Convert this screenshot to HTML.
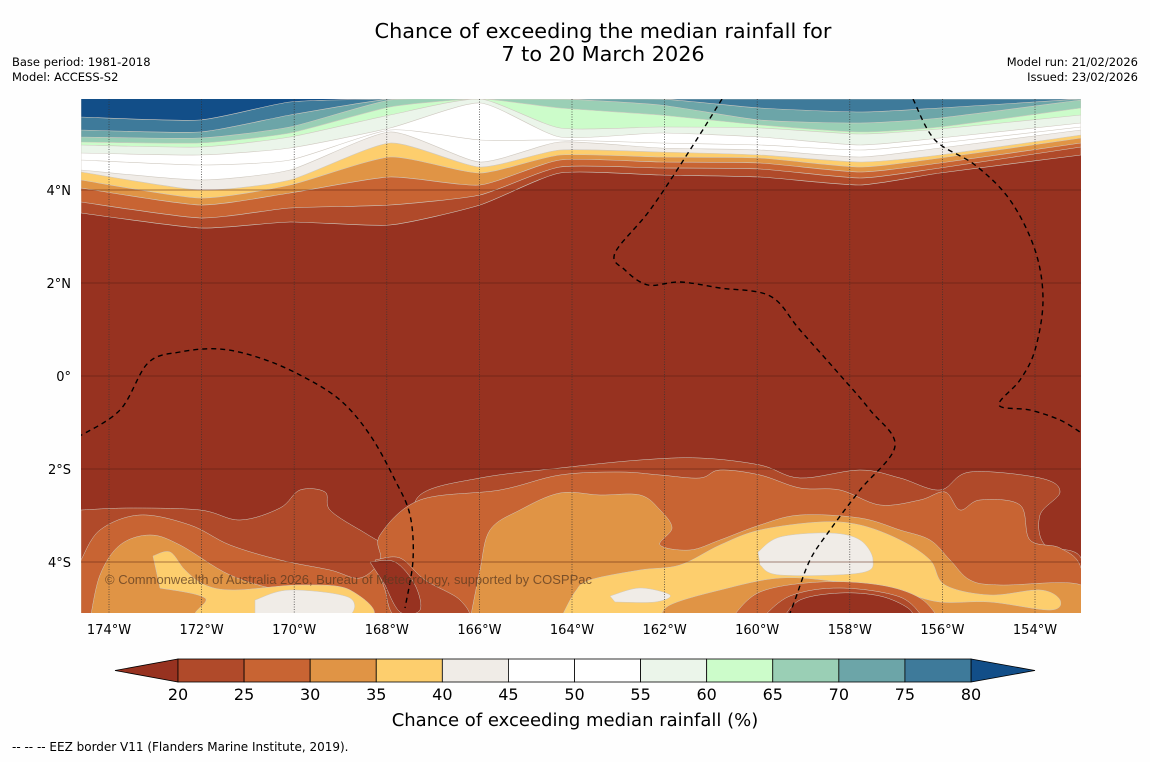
<!DOCTYPE html>
<html><head><meta charset="utf-8"><style>
body{margin:0;background:#fefefe;width:1150px;height:758px;overflow:hidden;font-family:"DejaVu Sans",sans-serif;}
svg text{font-family:"DejaVu Sans",sans-serif;}
</style></head><body>
<svg id="chart" width="1150" height="758" xmlns="http://www.w3.org/2000/svg">
<text x="603" y="38" font-size="20.8" text-anchor="middle">Chance of exceeding the median rainfall for</text>
<text x="603" y="61" font-size="20.8" text-anchor="middle">7 to 20 March 2026</text>
<text x="12" y="66" font-size="11.5">Base period: 1981-2018</text>
<text x="12" y="81" font-size="11.5">Model: ACCESS-S2</text>
<text x="1138" y="66" font-size="11.5" text-anchor="end">Model run: 21/02/2026</text>
<text x="1138" y="81" font-size="11.5" text-anchor="end">Issued: 23/02/2026</text>
<defs><clipPath id="mc"><rect x="81" y="99" width="1000" height="514"/></clipPath></defs>
<g id="map" clip-path="url(#mc)">
<rect x="81" y="99" width="1000" height="514" fill="#973220"/>
<g id="top"></g><g id="bot"></g><g id="grid"></g><g id="eez"></g>
<text x="105" y="584" font-size="13" fill="#5a3a20" fill-opacity="0.75" style="font-family:'Liberation Sans',sans-serif">© Commonwealth of Australia 2026, Bureau of Meteorology, supported by COSPPac</text>
</g>
<g id="axes"></g>
<g id="cbar"></g>
<text x="575" y="726" font-size="18" text-anchor="middle">Chance of exceeding median rainfall (%)</text>
<text x="12" y="751" font-size="12">--  --  -- EEZ border V11 (Flanders Marine Institute, 2019).</text>
</svg>
<script>
const levels=[20,25,30,35,40,45,50,55,60,65,70,75,80];
const colors=["#973220","#b04a2a","#c86433","#e09445","#fdce6d","#f0ece7","#ffffff","#ffffff","#ebf5ea","#ccfcca","#9acfb5","#6ca5a8","#3e7a9a","#124e88"];
const lonTicks=[-174,-172,-170,-168,-166,-164,-162,-160,-158,-156,-154];
const latTicks=[4,2,0,-2,-4];
const topXs=[81,200,290,390,480,560,660,760,860,940,1081];
const topContours=[
[213,228,222,225,205,173,175,177,185,173,155],
[202,218,208,205,195,167,168,169,178,168,147],
[188,205,193,177,185,160,162,163,172,163,143],
[180,198,185,157,173,155,157,158,167,158,138],
[172,190,180,143,167,150,152,155,162,155,135],
[170,180,170,132,162,142,148,150,157,148,130],
[160,165,160,130,140,140,143,145,150,143,127],
[153,155,148,128,103,137,133,137,145,138,123],
[145,147,137,115,99,128,127,128,134,129,115],
[142,143,133,107,99,108,115,125,132,127,108],
[137,138,127,100,99,99,105,120,123,118,100],
[130,132,115,99,99,99,99,108,112,108,99],
[117,120,102,99,99,99,99,99,99,99,99]];
const NS="http://www.w3.org/2000/svg";
const X=lon=>109+(lon+174)*46.3;
const Y=lat=>376-lat*46.5;
function smooth(p,k){k=k||6;let d="M"+p[0][0]+","+p[0][1];for(let i=0;i<p.length-1;i++){const a=p[Math.max(0,i-1)],b=p[i],c=p[i+1],e=p[Math.min(p.length-1,i+2)];d+=" C"+(b[0]+(c[0]-a[0])/k)+","+(b[1]+(c[1]-a[1])/k)+" "+(c[0]-(e[0]-b[0])/k)+","+(c[1]-(e[1]-b[1])/k)+" "+c[0]+","+c[1];}return d;}
function mk(tag,attrs,parent){const e=document.createElementNS(NS,tag);for(const k in attrs)e.setAttribute(k,attrs[k]);parent.appendChild(e);return e;}
const topG=document.getElementById('top');
topContours.forEach((ys,i)=>{const pts=topXs.map((x,j)=>[x,ys[j]]);
const p=mk('path',{d:smooth(pts,10)+" L1081,90 L81,90 Z",fill:colors[i+1],stroke:"#cfc9c0","stroke-width":0.6},topG);

});
const blobs=[
[1,[[81,510],[130,508],[200,510],[240,520],[280,508],[300,490],[325,492],[330,510],[360,530],[390,545],[410,535],[420,495],[480,478],[560,468],[640,460],[700,458],[760,465],[800,478],[860,470],[900,478],[940,490],[970,472],[1040,478],[1060,492],[1040,515],[1045,545],[1081,558],[1081,620],[81,620]]],
[2,[[81,560],[100,530],[140,515],[190,525],[230,545],[280,560],[330,570],[360,578],[380,560],[380,535],[420,500],[500,490],[560,475],[620,472],[660,475],[700,478],[720,470],[760,475],[800,488],[840,490],[880,505],[920,500],[945,492],[960,510],[980,500],[1020,505],[1030,540],[1060,548],[1081,568],[1081,620],[81,620]]],
[1,[[375,560],[400,558],[425,580],[460,600],[465,620],[400,620],[385,590]]],
[0,[[370,562],[395,562],[415,585],[420,610],[400,612],[385,585]]],
[3,[[90,620],[100,575],[120,545],[150,535],[180,545],[230,575],[280,590],[320,592],[350,605],[355,620]]],
[3,[[470,620],[480,570],[490,530],[520,510],[560,493],[600,495],[640,495],[660,510],[672,528],[660,545],[690,550],[720,540],[760,525],[800,515],[860,518],[900,530],[930,540],[950,560],[970,580],[1000,585],[1081,585],[1081,620]]],
[4,[[153,556],[170,552],[185,570],[205,585],[235,590],[300,585],[350,590],[365,620],[205,620],[205,598],[160,588]]],
[4,[[560,620],[575,592],[590,580],[640,570],[680,565],[720,545],[760,530],[820,522],[860,525],[900,540],[930,560],[945,585],[990,595],[1040,590],[1060,600],[1050,610],[990,602],[940,602],[900,592],[840,582],[780,578],[720,590],[670,605],[660,620]]],
[2,[[730,620],[760,592],[820,582],[880,585],[920,598],[940,620]]],
[1,[[760,620],[790,596],[840,588],[900,597],[925,620]]],
[0,[[782,620],[800,600],[840,593],[880,596],[908,608],[915,620]]],
[5,[[758,552],[780,537],[830,533],[860,540],[873,560],[860,573],[780,575],[760,565]]],
[5,[[255,600],[290,590],[350,598],[340,620],[255,620]]],
[5,[[610,596],[640,588],[670,595],[655,602],[615,602]]]];
const botG=document.getElementById('bot');
blobs.forEach((b,i)=>{const p=mk('path',{d:smooth(b[1])+" Z",fill:colors[b[0]],stroke:"#cfc9c0","stroke-width":0.5},botG);

});
const grid=document.getElementById('grid'),axes=document.getElementById('axes');
lonTicks.forEach(l=>{const x=X(l);
const ln=mk('line',{x1:x,x2:x,y1:99,y2:613,stroke:"#333","stroke-width":0.7,"stroke-dasharray":"1,1.5"},grid);


const t=mk('text',{x:x,y:634,"font-size":13,"text-anchor":"middle"},axes);t.textContent=Math.abs(l)+"°W";

});
latTicks.forEach(l=>{const y=Y(l);
const ln=mk('line',{x1:81,x2:1081,y1:y,y2:y,stroke:"#5a2010","stroke-width":0.8,"stroke-opacity":0.7},grid);


const t=mk('text',{x:71,y:y+5,"font-size":13,"text-anchor":"end"},axes);t.textContent=l===0?"0°":Math.abs(l)+"°"+(l>0?"N":"S");

});
const eezLines=[
[[78,437],[120,410],[148,363],[180,352],[220,349],[260,358],[300,375],[340,400],[370,435],[395,480],[410,515],[413,560],[405,608]],
[[722,99],[690,150],[650,210],[615,253],[625,270],[648,285],[680,282],[720,288],[770,296],[800,330],[840,375],[870,410],[895,446],[860,490],[830,530],[810,560],[795,600],[790,613]],
[[913,99],[935,140],[975,165],[1010,200],[1035,250],[1043,300],[1035,350],[1020,380],[999,405],[1030,410],[1060,420],[1080,432]]];
const eg=document.getElementById('eez');
eezLines.forEach(pts=>{const p=mk('path',{d:smooth(pts),fill:"none",stroke:"#000","stroke-width":1.4,"stroke-dasharray":"5,4"},eg);

});
const cb=document.getElementById('cbar');const x0=178,x1=971,w=(x1-x0)/12,cy=659,ch=23;
let tri=mk('polygon',{points:`115,${cy+ch/2} ${x0},${cy} ${x0},${cy+ch}`,fill:colors[0],stroke:"#000","stroke-width":0.8},cb);


tri=mk('polygon',{points:`1035,${cy+ch/2} ${x1},${cy} ${x1},${cy+ch}`,fill:colors[13],stroke:"#000","stroke-width":0.8},cb);


for(let i=0;i<12;i++){const r=mk('rect',{x:x0+i*w,y:cy,width:w,height:ch,fill:colors[i+1],stroke:"#000","stroke-width":0.8},cb);

}
levels.forEach((v,i)=>{const t=mk('text',{x:x0+i*w,y:700,"font-size":16,"text-anchor":"middle"},cb);t.textContent=v;

});
</script>
</body></html>
